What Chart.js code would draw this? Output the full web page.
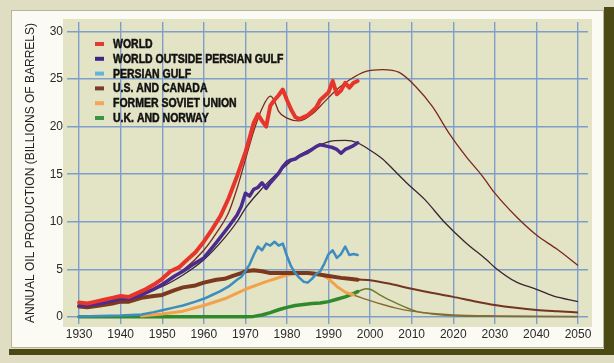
<!DOCTYPE html>
<html><head><meta charset="utf-8">
<script src="https://cdn.jsdelivr.net/npm/chart.js@4.4.1/dist/chart.umd.min.js"></script>
<style>
html,body{margin:0;padding:0;}
body{width:614px;height:363px;background:#dfdec2;position:relative;overflow:hidden;}
#shadowR{position:absolute;left:604px;top:7px;width:10px;height:348px;background:#4b4a14;}
#shadowB{position:absolute;left:9px;top:349px;width:605px;height:6px;background:#4b4a14;}
#panel{position:absolute;left:11px;top:10px;width:591px;height:336px;background:#fbfbf4;border:1px solid #b5b5a0;}
#wrap{position:absolute;left:0;top:0;width:614px;height:363px;}
</style></head><body>
<div id="shadowR"></div><div id="shadowB"></div><div id="panel"></div>
<div id="wrap"><canvas id="c" width="614" height="363"></canvas></div>
<script>
// ---- Data (billions of barrels per year) ----
const xTickLabels = ['1930','1940','1950','1960','1970','1980','1990','2000','2010','2020','2030','2040','2050'];
const yTickLabels = ['0','5','10','15','20','25','30'];
const seriesNames = ['WORLD','WORLD OUTSIDE PERSIAN GULF','PERSIAN GULF','U.S. AND CANADA','FORMER SOVIET UNION','U.K. AND NORWAY'];

const worldYears  = [1930,1932,1934,1936,1938,1940,1942,1944,1946,1948,1950,1952,1954,1956,1958,1960,1962,1964,1966,1968,1970,1971,1972,1973,1974,1975,1976,1977,1978,1979,1980,1981,1982,1983,1984,1985,1986,1987,1988,1989,1990,1991,1992,1993,1994,1995,1996,1997];
const worldValues = [1.5,1.4,1.6,1.8,2.0,2.2,2.1,2.5,2.9,3.4,4.0,4.8,5.2,6.0,6.8,7.9,9.2,10.6,12.5,14.8,17.3,18.8,20.4,21.3,20.6,20.0,22.2,22.8,23.3,23.9,22.8,21.8,21.0,20.8,21.0,21.2,21.6,22.0,22.8,23.2,23.6,24.8,23.4,23.8,24.6,24.1,24.6,24.8];

const outsideYears  = [1930,1932,1935,1938,1940,1942,1945,1948,1950,1953,1955,1957,1960,1963,1966,1968,1969,1970,1971,1972,1973,1974,1975,1976,1977,1978,1979,1980,1981,1982,1983,1984,1985,1986,1987,1988,1989,1990,1991,1992,1993,1994,1995,1996,1997];
const outsideValues = [1.2,1.2,1.4,1.7,1.9,1.9,2.3,2.9,3.4,4.3,4.8,5.4,6.2,7.8,9.5,10.7,11.6,13.0,12.7,13.4,13.6,14.1,13.5,14.1,14.6,15.1,15.8,16.3,16.5,16.6,16.9,17.1,17.3,17.6,17.9,18.1,18.0,17.9,17.8,17.6,17.2,17.6,17.8,18.0,18.3];

const gulfYears  = [1930,1935,1940,1945,1948,1950,1953,1955,1958,1960,1962,1964,1966,1968,1969,1970,1971,1972,1973,1974,1975,1976,1977,1978,1979,1980,1981,1982,1983,1984,1985,1986,1987,1988,1989,1990,1991,1992,1993,1994,1995,1996,1997];
const gulfValues = [0.05,0.1,0.15,0.25,0.5,0.7,1.0,1.2,1.6,1.9,2.3,2.7,3.2,3.9,4.2,4.8,5.5,6.5,7.4,7.0,7.7,7.5,7.9,7.5,7.7,6.4,5.3,4.6,4.1,3.7,3.6,4.0,4.5,4.8,5.6,6.6,7.0,6.2,6.6,7.4,6.5,6.6,6.5];

const usYears  = [1930,1932,1935,1938,1940,1942,1945,1948,1950,1953,1955,1958,1960,1963,1965,1967,1969,1970,1972,1974,1976,1978,1980,1982,1985,1987,1990,1993,1995,1997];
const usValues = [1.1,1.0,1.2,1.4,1.6,1.6,2.0,2.2,2.3,2.8,3.1,3.3,3.6,3.9,4.0,4.3,4.6,4.8,4.9,4.8,4.6,4.6,4.6,4.6,4.6,4.5,4.3,4.1,4.0,3.9];

const fsuYears  = [1945,1950,1955,1960,1965,1970,1975,1980,1983,1986,1988,1990,1992,1994,1996];
const fsuValues = [0.1,0.3,0.6,1.2,1.9,2.9,3.7,4.4,4.6,4.7,4.5,4.0,3.2,2.6,2.3];

const ukYears  = [1930,1970,1972,1974,1976,1978,1980,1982,1984,1986,1988,1990,1992,1994,1996,1997];
const ukValues = [0.0,0.0,0.05,0.2,0.45,0.75,1.0,1.2,1.3,1.4,1.45,1.6,1.85,2.1,2.45,2.65];

// thin model / projection curves
const worldModelYears  = [1930,1935,1940,1945,1950,1955,1960,1963,1966,1968,1970,1972,1974,1976,1977,1978,1980,1983,1986,1989,1992,1995,1999,2003,2007,2011,2015,2019,2023,2027,2030,2035,2040,2045,2050];
const worldModelValues = [1.3,1.5,2.0,2.5,3.5,4.9,7.0,8.8,11.0,13.5,16.5,19.5,21.9,23.2,22.7,21.6,20.9,20.6,21.3,22.6,23.9,24.9,25.8,26.0,25.7,24.2,22.1,19.3,16.9,14.8,13.0,10.6,8.6,7.1,5.4];

const outsideModelYears  = [1930,1940,1950,1955,1960,1965,1968,1970,1973,1976,1980,1983,1987,1991,1994,1997,1999,2003,2006,2009,2013,2018,2023,2028,2030,2035,2040,2044,2050];
const outsideModelValues = [1.2,1.8,3.2,4.4,6.0,8.3,10.0,11.4,13.0,14.4,16.0,17.0,17.9,18.5,18.55,18.3,17.8,16.6,15.3,14.0,12.4,9.9,7.8,6.0,5.2,3.7,2.9,2.2,1.6];

const usModelYears  = [1990,1995,2000,2005,2010,2015,2020,2025,2030,2035,2040,2045,2050];
const usModelValues = [4.3,4.0,3.85,3.45,2.95,2.5,2.1,1.65,1.25,0.95,0.72,0.58,0.46];

const fsuModelYears  = [1996,1998,2000,2003,2006,2010,2015,2020,2030,2040,2050];
const fsuModelValues = [2.3,2.0,1.7,1.3,0.95,0.6,0.35,0.2,0.1,0.07,0.05];

const ukModelYears  = [1997,1999,2000,2002,2005,2008,2011,2015,2020,2030,2040,2050];
const ukModelValues = [2.65,2.95,2.9,2.4,1.7,1.1,0.6,0.3,0.12,0.05,0.03,0.02];

const pts = (xs, ys) => xs.map((x, i) => ({x: x, y: ys[i]}));

function thick(label, xs, ys, color, w, legendColor) {
  return {label, data: pts(xs, ys), borderColor: color, borderWidth: w, pointRadius: 0,
    tension: 0, fill: false, legendColor: legendColor || color, borderJoinStyle: 'round', borderCapStyle: 'round'};
}
function thin(label, xs, ys, color, w) {
  return {label, data: pts(xs, ys), borderColor: color, borderWidth: w || 1.2, pointRadius: 0,
    tension: 0.4, cubicInterpolationMode: 'monotone', fill: false, isModel: true};
}

const datasets = [
  thick(seriesNames[0], worldYears, worldValues, '#e8352b', 4, '#e33a34'),
  thick(seriesNames[1], outsideYears, outsideValues, '#4b2c8e', 3.5, '#3d2685'),
  thick(seriesNames[2], gulfYears, gulfValues, '#3d8dbf', 2.5, '#63b4dc'),
  thick(seriesNames[3], usYears, usValues, '#7b3a1e', 4, '#7a3c2a'),
  thick(seriesNames[4], fsuYears, fsuValues, '#f2a24a', 3, '#f2a65a'),
  thick(seriesNames[5], ukYears, ukValues, '#2f8a2e', 3.5, '#3c9445'),
  thin('World model', worldModelYears, worldModelValues, '#7a2a1c', 1.3),
  thin('Outside Persian Gulf model', outsideModelYears, outsideModelValues, '#3a2530', 1.3),
  thin('U.S. and Canada model', usModelYears, usModelValues, '#73351f', 2),
  thin('Former Soviet Union model', fsuModelYears, fsuModelValues, '#8a6a34', 1.4),
  thin('U.K. and Norway model', ukModelYears, ukModelValues, '#6d7a2c', 1.4)
];

const bgPlugin = {
  id: 'bg',
  beforeDraw(chart) {
    const {ctx, chartArea: a} = chart;
    ctx.save();
    ctx.fillStyle = '#e3e3c6';
    ctx.fillRect(a.left - 4, a.top - 3, a.width + 8, a.height + 6);
    ctx.restore();
  }
};

const legendPlugin = {
  id: 'insideLegend',
  afterDatasetsDraw(chart) {
    const {ctx, chartArea: a} = chart;
    ctx.save();
    ctx.font = 'bold 12.5px "Liberation Sans", Arial, sans-serif';
    ctx.textBaseline = 'middle';
    ctx.textAlign = 'left';
    chart.data.datasets.slice(0, 6).forEach((ds, i) => {
      const y = a.top + 22 + i * 14.8;
      ctx.fillStyle = ds.legendColor;
      ctx.fillRect(a.left + 28, y - 2, 9, 4);
      ctx.fillStyle = '#111';
      ctx.strokeStyle = '#111';
      ctx.lineWidth = 0.5;
      ctx.save();
      ctx.translate(a.left + 46, y + 0.5);
      ctx.scale(0.84, 1);
      ctx.fillText(ds.label, 0, 0);
      ctx.strokeText(ds.label, 0, 0);
      ctx.restore();
    });
    ctx.restore();
  }
};

const gridColor = '#7f9fca';
new Chart(document.getElementById('c'), {
  type: 'line',
  data: {datasets},
  options: {
    responsive: false,
    animation: false,
    layout: {padding: {left: 14, right: 26, top: 22, bottom: 19}},
    plugins: {legend: {display: false}, tooltip: {enabled: false}},
    scales: {
      x: {
        type: 'linear', min: 1927.1, max: 2052.4,
        afterBuildTicks: s => { s.ticks = xTickLabels.map(t => ({value: Number(t)})); },
        afterFit: s => { s.height = 20; },
        ticks: {callback: v => String(v), color: '#2a2a2a', padding: 3, maxRotation: 0,
          font: {family: '"Liberation Sans", Arial, sans-serif', size: 12}},
        grid: {color: gridColor, lineWidth: 1.4, drawTicks: false},
        border: {display: false}
      },
      y: {
        type: 'linear', min: -0.75, max: 31,
        afterBuildTicks: s => { s.ticks = yTickLabels.map(t => ({value: Number(t)})); },
        afterFit: s => { s.width = 53; },
        ticks: {callback: v => String(v), color: '#2a2a2a', padding: 4,
          font: {family: '"Liberation Sans", Arial, sans-serif', size: 12}},
        grid: {color: gridColor, lineWidth: 1.4, drawTicks: false},
        border: {display: false},
        title: {display: true, text: 'ANNUAL OIL PRODUCTION (BILLIONS OF BARRELS)', color: '#222',
          font: {family: '"Liberation Sans", Arial, sans-serif', size: 12}, padding: {top: 9, bottom: 0}}
      }
    }
  },
  plugins: [bgPlugin, legendPlugin]
});
</script>
</body></html>
